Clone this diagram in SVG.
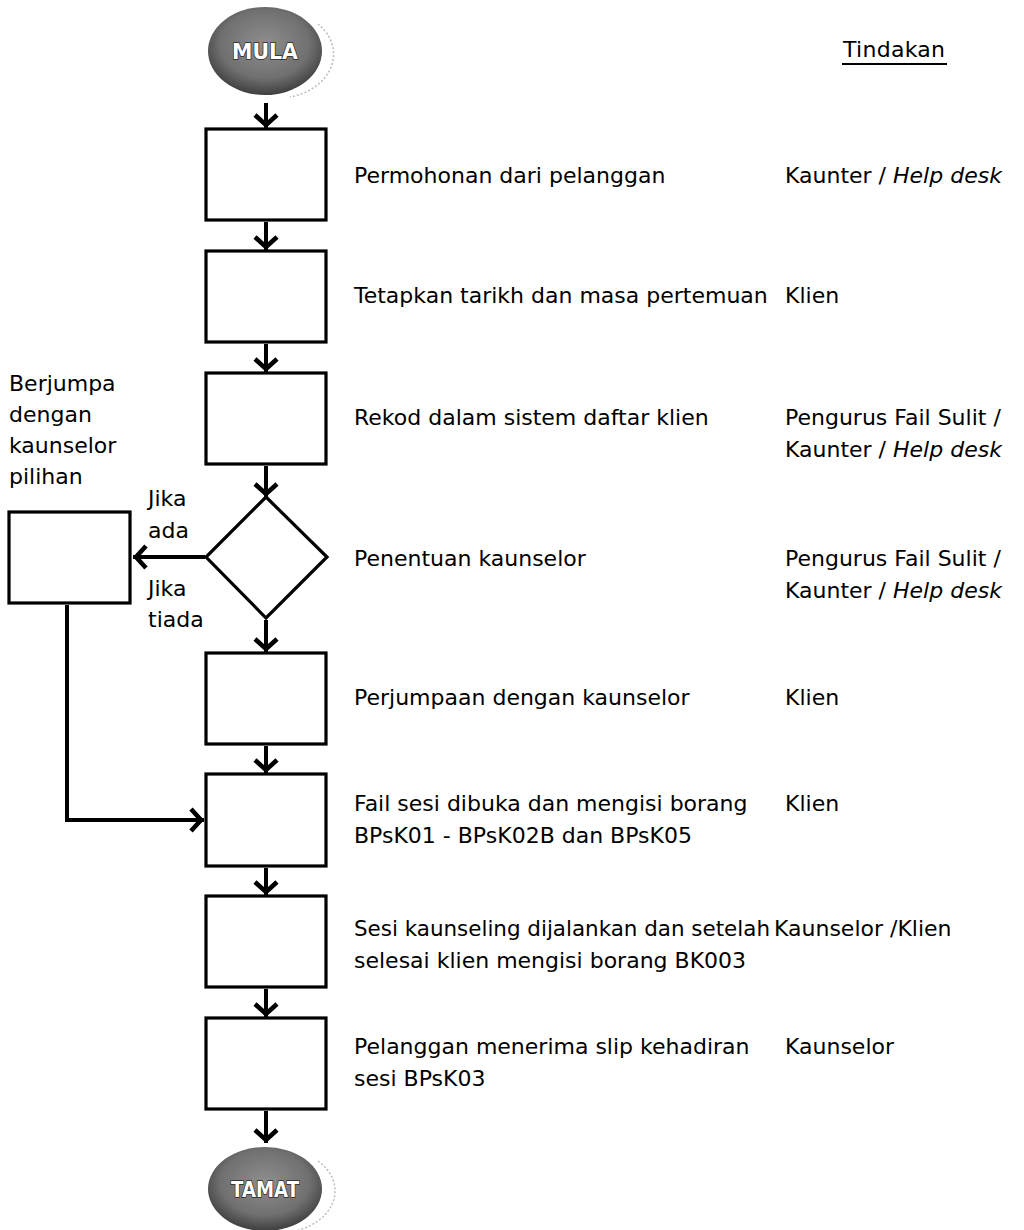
<svg xmlns="http://www.w3.org/2000/svg" width="1024" height="1230" viewBox="0 0 1024 1230">
<style>
.box{fill:#fff;stroke:#000;stroke-width:3.2}
.t{font-family:"DejaVu Sans","Liberation Sans",sans-serif;font-size:22px;fill:#000}
.i{font-style:italic}
.term{font-family:"DejaVu Sans","Liberation Sans",sans-serif;font-size:22px;font-weight:bold;fill:#fff;stroke:#2a2a2a;stroke-width:1.6;paint-order:stroke}
.conn{fill:none;stroke:#000;stroke-width:4}
.shadow{fill:none;stroke:#bbb;stroke-width:1.5;stroke-dasharray:2 2}
</style>
<defs>
<radialGradient id="g" cx="0.5" cy="0.42" r="0.6">
<stop offset="0" stop-color="#8e8e8e"/>
<stop offset="0.65" stop-color="#707070"/>
<stop offset="1" stop-color="#3a3a3a"/>
</radialGradient>
<marker id="ah" markerUnits="userSpaceOnUse" markerWidth="30" markerHeight="30" viewBox="-20 -15 30 30" refX="0" refY="0" orient="auto" overflow="visible">
<path d="M-13,-11 L-3,0 L-13,11" fill="none" stroke="#000" stroke-width="4.6" stroke-linejoin="miter"/>
</marker>
</defs>

<g id="mula">
<path class="shadow" d="M318,24 A57,44 0 0 1 290,97"/>
<ellipse cx="265" cy="51" rx="57" ry="44" fill="url(#g)"/>
<text class="term" x="265" y="59" text-anchor="middle" textLength="66" lengthAdjust="spacingAndGlyphs">MULA</text>
</g>

<g id="header">
<text class="t" x="843" y="57" textLength="102">Tindakan</text>
<line x1="842" y1="64" x2="947" y2="64" stroke="#000" stroke-width="2"/>
</g>

<g id="step1">
<rect class="box" x="206" y="129" width="120" height="91"/>
<text class="t" x="354" y="183">Permohonan dari pelanggan</text>
<text class="t" x="785" y="183">Kaunter / <tspan class="i">Help desk</tspan></text>
</g>

<g id="step2">
<rect class="box" x="206" y="251" width="120" height="91"/>
<text class="t" x="354" y="303">Tetapkan tarikh dan masa pertemuan</text>
<text class="t" x="785" y="303">Klien</text>
</g>

<g id="step3">
<rect class="box" x="206" y="373" width="120" height="91"/>
<text class="t" x="354" y="425">Rekod dalam sistem daftar klien</text>
<text class="t" x="785" y="425">Pengurus Fail Sulit /</text>
<text class="t" x="785" y="457">Kaunter / <tspan class="i">Help desk</tspan></text>
</g>

<g id="decision">
<polygon class="box" points="266,497 327,557 266,618 206,557"/>
<text class="t" x="354" y="566">Penentuan kaunselor</text>
<text class="t" x="785" y="566">Pengurus Fail Sulit /</text>
<text class="t" x="785" y="598">Kaunter / <tspan class="i">Help desk</tspan></text>
<text class="t" x="148" y="506">Jika</text>
<text class="t" x="148" y="538">ada</text>
<text class="t" x="148" y="596">Jika</text>
<text class="t" x="148" y="627">tiada</text>
</g>

<g id="side">
<rect class="box" x="9" y="512" width="121" height="91"/>
<text class="t" x="9" y="391">Berjumpa</text>
<text class="t" x="9" y="422">dengan</text>
<text class="t" x="9" y="453">kaunselor</text>
<text class="t" x="9" y="484">pilihan</text>
</g>

<g id="step4">
<rect class="box" x="206" y="653" width="120" height="91"/>
<text class="t" x="354" y="705">Perjumpaan dengan kaunselor</text>
<text class="t" x="785" y="705">Klien</text>
</g>

<g id="step5">
<rect class="box" x="206" y="774" width="120" height="92"/>
<text class="t" x="354" y="811">Fail sesi dibuka dan mengisi borang</text>
<text class="t" x="354" y="843">BPsK01 - BPsK02B dan BPsK05</text>
<text class="t" x="785" y="811">Klien</text>
</g>

<g id="step6">
<rect class="box" x="206" y="896" width="120" height="91"/>
<text class="t" x="354" y="936" textLength="416" lengthAdjust="spacingAndGlyphs">Sesi kaunseling dijalankan dan setelah</text>
<text class="t" x="354" y="968">selesai klien mengisi borang BK003</text>
<text class="t" x="774" y="936">Kaunselor /Klien</text>
</g>

<g id="step7">
<rect class="box" x="206" y="1018" width="120" height="91"/>
<text class="t" x="354" y="1054">Pelanggan menerima slip kehadiran</text>
<text class="t" x="354" y="1086">sesi BPsK03</text>
<text class="t" x="785" y="1054">Kaunselor</text>
</g>

<g id="tamat">
<path class="shadow" d="M318,1161 A57,42 0 0 1 290,1232"/>
<ellipse cx="265" cy="1189" rx="57" ry="42" fill="url(#g)"/>
<text class="term" x="265" y="1197" text-anchor="middle" textLength="68" lengthAdjust="spacingAndGlyphs">TAMAT</text>
</g>

<g id="connectors">
<line class="conn" x1="266" y1="103" x2="266" y2="128" marker-end="url(#ah)"/>
<line class="conn" x1="266" y1="222" x2="266" y2="250" marker-end="url(#ah)"/>
<line class="conn" x1="266" y1="344" x2="266" y2="372" marker-end="url(#ah)"/>
<line class="conn" x1="266" y1="466" x2="266" y2="497" marker-end="url(#ah)"/>
<line class="conn" x1="266" y1="620" x2="266" y2="652" marker-end="url(#ah)"/>
<line class="conn" x1="266" y1="746" x2="266" y2="773" marker-end="url(#ah)"/>
<line class="conn" x1="266" y1="868" x2="266" y2="895" marker-end="url(#ah)"/>
<line class="conn" x1="266" y1="989" x2="266" y2="1017" marker-end="url(#ah)"/>
<line class="conn" x1="266" y1="1111" x2="266" y2="1143" marker-end="url(#ah)"/>
<line class="conn" x1="205" y1="557" x2="133" y2="557" marker-end="url(#ah)"/>
<polyline class="conn" points="67,605 67,820 204,820" stroke-linejoin="miter" marker-end="url(#ah)"/>
</g>
</svg>
